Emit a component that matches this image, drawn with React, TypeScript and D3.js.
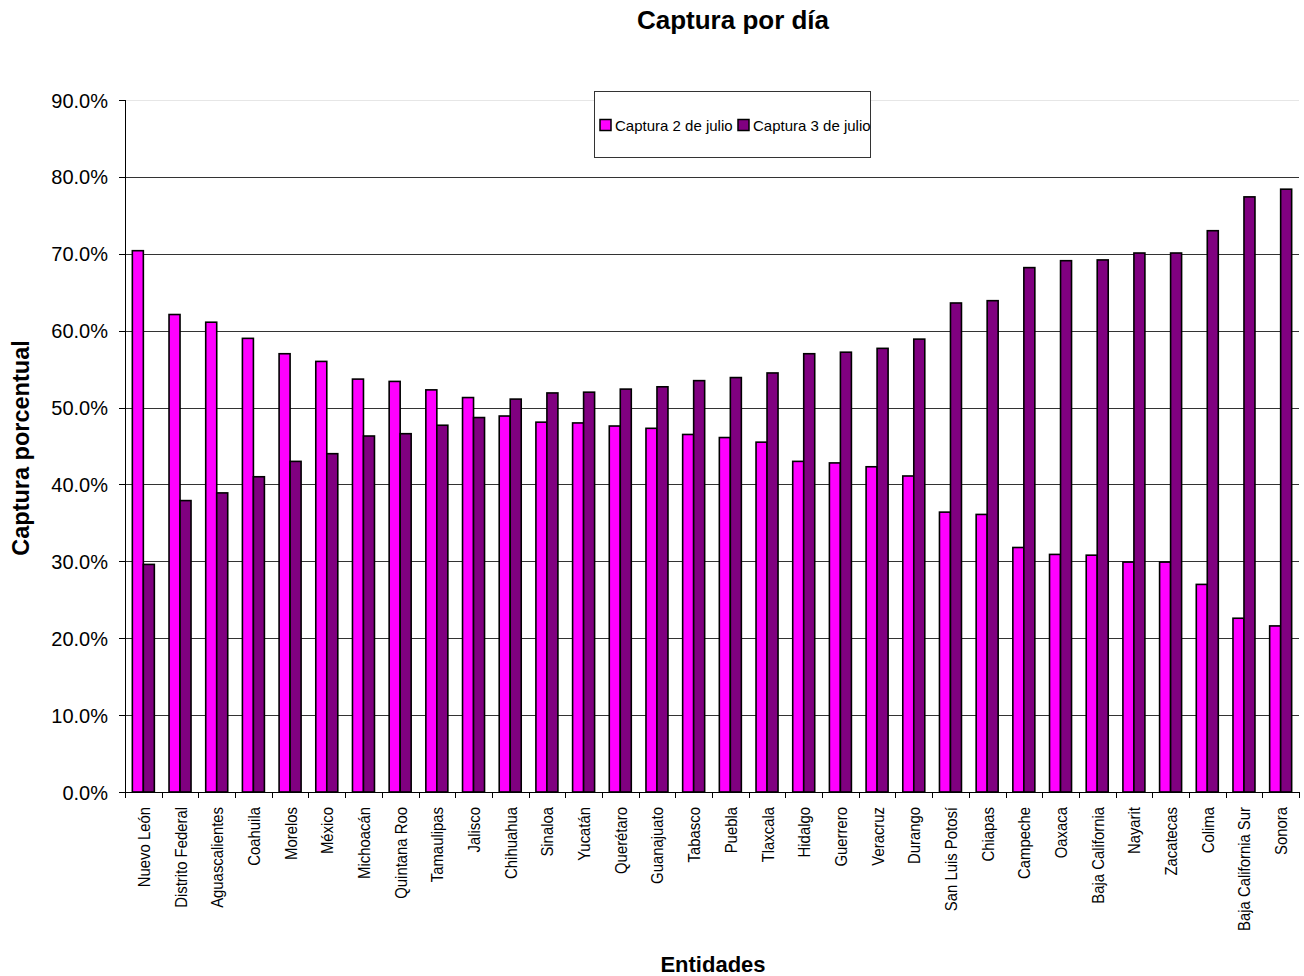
import React from "react";
import * as d3 from "d3";

const categories = [
  "Nuevo León", "Distrito Federal", "Aguascalientes", "Coahuila", "Morelos", "México",
  "Michoacán", "Quintana Roo", "Tamaulipas", "Jalisco", "Chihuahua", "Sinaloa", "Yucatán",
  "Querétaro", "Guanajuato", "Tabasco", "Puebla", "Tlaxcala", "Hidalgo", "Guerrero",
  "Veracruz", "Durango", "San Luis Potosí", "Chiapas", "Campeche", "Oaxaca",
  "Baja California", "Nayarit", "Zacatecas", "Colima", "Baja California Sur", "Sonora",
];

const captura2Julio = [
  70.4, 62.1, 61.1, 59.0, 57.0, 56.0, 53.7, 53.4, 52.3, 51.3, 48.9, 48.1, 48.0,
  47.6, 47.3, 46.5, 46.1, 45.5, 43.0, 42.8, 42.3, 41.1, 36.4, 36.1, 31.8, 30.9,
  30.8, 29.9, 29.9, 27.0, 22.6, 21.6,
];

const captura3Julio = [
  29.6, 37.9, 38.9, 41.0, 43.0, 44.0, 46.3, 46.6, 47.7, 48.7, 51.1, 51.9, 52.0,
  52.4, 52.7, 53.5, 53.9, 54.5, 57.0, 57.2, 57.7, 58.9, 63.6, 63.9, 68.2, 69.1,
  69.2, 70.1, 70.1, 73.0, 77.4, 78.4,
];

const seriesNames = ["Captura 2 de julio", "Captura 3 de julio"];
const seriesColors = ["#FF00FF", "#800080"];
const yTicks = [0, 10, 20, 30, 40, 50, 60, 70, 80, 90];

const W = 1304;
const H = 976;
const left = 125;
const right = 1299;
const top = 100;
const bottom = 792;
const font = "'Liberation Sans', Arial, sans-serif";

export default function App() {
  const x = d3.scaleBand<string>().domain(categories).range([left, right]).padding(0);
  const y = d3.scaleLinear().domain([0, 90]).range([bottom, top]);
  const barW = 11;
  const series = [captura2Julio, captura3Julio];

  return (
    <svg
      width={W}
      height={H}
      style={{ position: "absolute", left: 0, top: 0, background: "#fff" }}
      fontFamily={font}
    >
      <rect x={0} y={0} width={W} height={H} fill="#fff" />
      {/* title */}
      <text x={733} y={29} textAnchor="middle" fontSize={26} fontWeight="bold" fill="#000">
        Captura por día
      </text>

      {/* gridlines */}
      {yTicks.map((t) => (
        <line
          key={"g" + t}
          x1={left}
          x2={right}
          y1={Math.round(y(t)) + 0.5}
          y2={Math.round(y(t)) + 0.5}
          stroke={t === 90 ? "#e6e6e6" : t === 0 ? "#000" : "#333"}
          strokeWidth={1}
        />
      ))}

      {/* bars */}
      {categories.map((c, i) => {
        const cx = (x(c) as number) + x.bandwidth() / 2;
        return (
          <g key={c}>
            {series.map((s, k) => (
              <rect
                key={k}
                x={cx - barW + k * barW}
                y={y(s[i])}
                width={barW}
                height={bottom - y(s[i])}
                fill={seriesColors[k]}
                stroke="#000"
                strokeWidth={1.6}
              />
            ))}
          </g>
        );
      })}

      {/* axes */}
      <line x1={left + 0.5} x2={left + 0.5} y1={top} y2={bottom} stroke="#000" />
      <line x1={left} x2={right} y1={bottom + 0.5} y2={bottom + 0.5} stroke="#000" />
      {yTicks.map((t) => (
        <g key={"t" + t}>
          <line x1={left - 6} x2={left} y1={Math.round(y(t)) + 0.5} y2={Math.round(y(t)) + 0.5} stroke="#000" />
          <text x={108} y={y(t) + 7.5} textAnchor="end" fontSize={20} fill="#000">
            {t.toFixed(1) + "%"}
          </text>
        </g>
      ))}
      {categories.map((c) => (
        <line
          key={"xt" + c}
          x1={Math.round(x(c) as number) + 0.5}
          x2={Math.round(x(c) as number) + 0.5}
          y1={bottom}
          y2={bottom + 6}
          stroke="#000"
        />
      ))}
      <line x1={right + 0.5} x2={right + 0.5} y1={bottom} y2={bottom + 6} stroke="#000" />

      {/* x labels */}
      {categories.map((c) => {
        const cx = (x(c) as number) + x.bandwidth() / 2 + 6.5;
        return (
          <text
            key={"xl" + c}
            transform={`translate(${cx},${807}) rotate(-90) scale(0.93,1)`}
            textAnchor="end"
            fontSize={16}
            fill="#000"
          >
            {c}
          </text>
        );
      })}

      {/* axis titles */}
      <text
        transform={`translate(${29},${448}) rotate(-90)`}
        textAnchor="middle"
        fontSize={23.5}
        fontWeight="bold"
        fill="#000"
      >
        Captura porcentual
      </text>
      <text x={713} y={972} textAnchor="middle" fontSize={22} fontWeight="bold" fill="#000">
        Entidades
      </text>

      {/* legend */}
      <rect x={594.5} y={91.5} width={276} height={66} fill="#fff" stroke="#333" strokeWidth={1} />
      {seriesNames.map((n, k) => {
        const lx = k === 0 ? 600 : 738;
        return (
          <g key={n}>
            <rect x={lx} y={119.5} width={11} height={11} fill={seriesColors[k]} stroke="#000" strokeWidth={1.5} />
            <text x={lx + 15} y={131} fontSize={15} fill="#000">
              {n}
            </text>
          </g>
        );
      })}
    </svg>
  );
}
